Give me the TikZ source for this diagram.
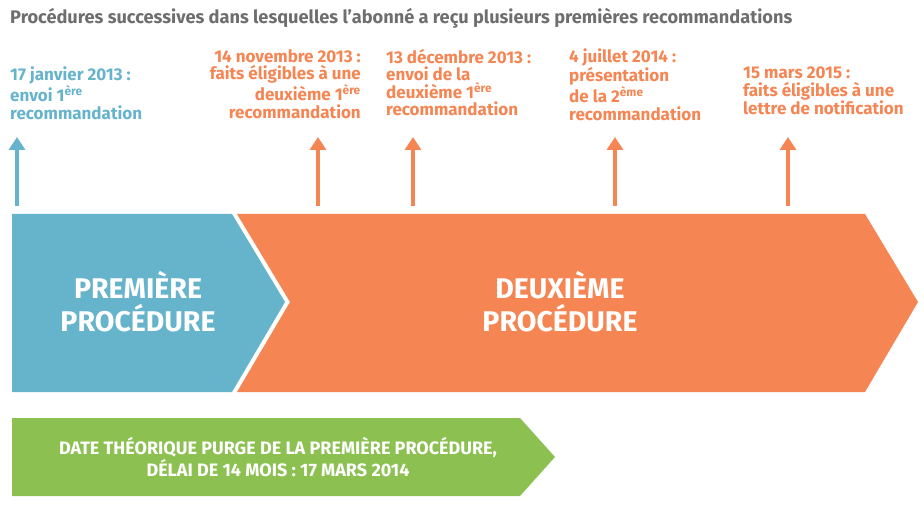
\documentclass[tikz,border=0pt]{standalone}
\usepackage{fontspec}
\usetikzlibrary{arrows.meta}
\setmainfont{Fira Sans}
\definecolor{cb}{HTML}{66B3CC}
\definecolor{co}{HTML}{F58553}
\definecolor{cg}{HTML}{8CC152}
\definecolor{ct}{HTML}{6E6E6E}
\begin{document}
\begin{tikzpicture}[x=1pt,y=-1pt,
  lab/.style={font=\fontsize{17}{17.5}\selectfont\bfseries, inner sep=0pt},
  big/.style={font=\fontsize{28.5}{33}\selectfont\bfseries, text=white, align=center},
  ar/.style={line width=4pt, -{Triangle[length=13pt,width=16pt]}}]
\useasboundingbox (0,0) rectangle (924,505);
\node[anchor=west, text=ct, font=\fontsize{18.2}{20}\selectfont\bfseries, inner sep=0pt] (title) at (10,18) {Procédures successives dans lesquelles l’abonné a reçu plusieurs premières recommandations};
\fill[cb] (12,214) -- (232,214) -- (285,302) -- (232,392) -- (12,392) -- cycle;
\fill[co] (237,214) -- (865,214) -- (918,302) -- (865,392) -- (237,392) -- (290,302) -- cycle;
\fill[cg] (12,418) -- (520,418) -- (555,457) -- (520,496) -- (12,496) -- cycle;
\node[big] (p1) at (138,302) {PREMIÈRE\\PROCÉDURE};
\node[big] (p2) at (560,302) {DEUXIÈME\\PROCÉDURE};
\node[text=white, font=\fontsize{18}{19}\selectfont\bfseries, align=center] (g) at (278,457) {DATE THÉORIQUE PURGE DE LA PREMIÈRE PROCÉDURE,\\DÉLAI DE 14 MOIS : 17 MARS 2014};
\node[lab, text=cb, align=left, anchor=north west] (l1) at (10,67) {17 janvier 2013 :\\envoi 1\textsuperscript{ère}\\recommandation};
\node[lab, text=co, align=right, anchor=north east] (l2) at (361,49) {14 novembre 2013 :\\faits éligibles à une\\deuxième 1\textsuperscript{ère}\\recommandation};
\node[lab, text=co, align=left, anchor=north west] (l3) at (386,49) {13 décembre 2013 :\\envoi de la\\deuxième 1\textsuperscript{ère}\\recommandation};
\node[lab, text=co, align=left, anchor=north west] (l4) at (569,49) {4 juillet 2014 :\\présentation\\de la 2\textsuperscript{ème}\\recommandation};
\node[lab, text=co, align=left, anchor=north west] (l5) at (743,67) {15 mars 2015 :\\faits éligibles à une\\lettre de notification};
\coordinate (a1) at (17,206); \coordinate (b1) at (17,137);
\coordinate (a2) at (318,206); \coordinate (b2) at (318,137);
\coordinate (a3) at (413,206); \coordinate (b3) at (413,137);
\coordinate (a4) at (615,206); \coordinate (b4) at (615,137);
\coordinate (a5) at (788,206); \coordinate (b5) at (788,137);
\draw[ar, cb] (a1) -- (b1);
\foreach \i in {2,...,5} \draw[ar, co] (a\i) -- (b\i);
\end{tikzpicture}
\end{document}
